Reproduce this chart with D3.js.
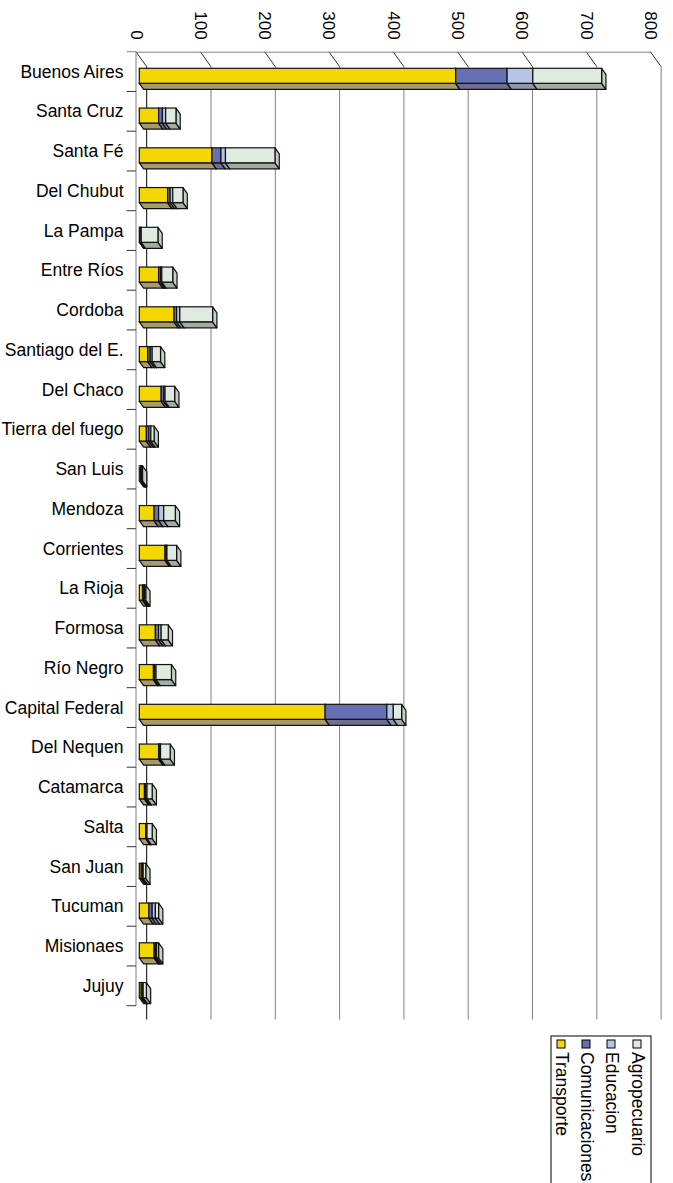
<html>
<head>
<script src="https://d3js.org/d3.v7.min.js"></script>
<style>
body {margin: 0; background: #fff;}
text {font-family: "Liberation Sans", Arial, sans-serif; fill: #000;}
</style>
</head>
<body>
<script>
// data
var categories = ["Buenos Aires", "Santa Cruz", "Santa Fé", "Del Chubut", "La Pampa", "Entre Ríos",
  "Cordoba", "Santiago del E.", "Del Chaco", "Tierra del fuego", "San Luis", "Mendoza", "Corrientes",
  "La Rioja", "Formosa", "Río Negro", "Capital Federal", "Del Nequen", "Catamarca", "Salta",
  "San Juan", "Tucuman", "Misionaes", "Jujuy"];
var transporte     = [492, 30, 113, 44, 1, 30, 54, 13, 34, 11, 2, 23, 40, 5, 25, 22, 289, 30, 8, 10, 3, 15, 23, 3];
var comunicaciones = [80, 6, 14, 4, 2, 3, 4, 4, 4, 4, 1, 7, 2, 2, 5, 2, 96, 2, 2, 1, 2, 5, 2, 2];
var educacion      = [40, 5, 7, 4, 0, 2, 5, 3, 2, 3, 1, 8, 1, 1, 4, 2, 10, 1, 2, 1, 1, 5, 2, 1];
var agropecuario   = [107, 16, 77, 16, 26, 17, 51, 13, 15, 5, 1, 18, 15, 2, 11, 24, 13, 15, 8, 8, 4, 5, 3, 5];
var seriesNames = ["Transporte", "Comunicaciones", "Educacion", "Agropecuario"];
var valueTicks = [0, 100, 200, 300, 400, 500, 600, 700, 800];

var frontColor  = ["#F5D700", "#6670B2", "#B5C5E5", "#DEEBDE"];
var bottomColor = ["#A69A6E", "#6F7090", "#8F97AA", "#A2ACA2"];
var sideColor   = ["#C2AA30", "#50588C", "#9AA6C0", "#C5D1C5"];

var w = 673, h = 1183;
var svg = d3.select("body").append("svg").attr("width", w).attr("height", h);

var x = d3.scaleLinear().domain([0, 800]).range([136, 650.4]);
var y = d3.scaleBand().domain(categories).range([51.7, 1005.7]);

// wall depth and bar geometry
var wallDx = 10.7, wallDy = 15;
var barX0 = 3.3, barY0 = 16.6, barH = 15, depDx = 4.3, depDy = 6;

// back wall gridlines
svg.selectAll("line.grid")
  .data(valueTicks)
  .enter().append("line")
  .attr("class", "grid")
  .attr("x1", d => x(d) + wallDx).attr("x2", d => x(d) + wallDx)
  .attr("y1", 51.7 + wallDy).attr("y2", 1019.5)
  .attr("stroke", d => d == 0 ? "#000" : "#808080")
  .attr("stroke-width", 1);

// diagonals from front axis to the wall
svg.selectAll("line.diag")
  .data(valueTicks)
  .enter().append("line")
  .attr("class", "diag")
  .attr("x1", d => x(d)).attr("x2", d => x(d) + wallDx)
  .attr("y1", 51.7).attr("y2", 51.7 + wallDy)
  .attr("stroke", "#333").attr("stroke-width", 1);

// value axis on top
var xAxis = d3.axisTop(x).tickValues(valueTicks).tickSize(0).tickSizeOuter(0).tickPadding(0);
var gx = svg.append("g")
  .attr("transform", "translate(0,51.7)")
  .call(xAxis);
gx.select(".domain").attr("stroke", "#808080");
gx.selectAll("text")
  .attr("x", 0).attr("y", 0).attr("dy", "0.35em")
  .attr("transform", "translate(0,-12) rotate(90)")
  .attr("text-anchor", "end")
  .style("font-size", "17px")
  .style("font-family", "Liberation Sans, Arial, sans-serif");

// category axis on the left
svg.append("line")
  .attr("x1", 136).attr("x2", 136).attr("y1", 51.7).attr("y2", 1005.7)
  .attr("stroke", "#808080");
var bounds = categories.map(c => y(c)).concat([y.range()[1]]);
svg.selectAll("line.ctick")
  .data(bounds)
  .enter().append("line")
  .attr("class", "ctick")
  .attr("x1", 126.7).attr("x2", 136)
  .attr("y1", d => d).attr("y2", d => d)
  .attr("stroke", d => d == bounds[0] ? "#808080" : "#333");

svg.selectAll("text.cat")
  .data(categories)
  .enter().append("text")
  .attr("class", "cat")
  .attr("x", 123.5)
  .attr("y", d => y(d) + y.bandwidth() / 2)
  .attr("dy", "0.35em")
  .attr("text-anchor", "end")
  .style("font-size", "17.5px")
  .text(d => d);

// stacked 3d bars
var rows = categories.map(function(c, i) {
  return {cat: c, Transporte: transporte[i], Comunicaciones: comunicaciones[i],
          Educacion: educacion[i], Agropecuario: agropecuario[i]};
});
var stacked = d3.stack().keys(seriesNames)(rows);

function pts(a) { return a.map(p => p.join(",")).join(" "); }

categories.forEach(function(c, i) {
  var g = svg.append("g");
  var top = y(c) + barY0, bot = top + barH;
  stacked.forEach(function(layer, k) {
    var v0 = layer[i][0], v1 = layer[i][1];
    if (v1 - v0 <= 0) return;
    var xa = x(v0) + barX0, xb = x(v1) + barX0;
    // bottom face
    g.append("polygon")
      .attr("points", pts([[xa, bot], [xb, bot], [xb + depDx, bot + depDy], [xa + depDx, bot + depDy]]))
      .attr("fill", bottomColor[k]).attr("stroke", "#111").attr("stroke-width", 1.2)
      .attr("stroke-linejoin", "round");
    // right face
    g.append("polygon")
      .attr("points", pts([[xb, top], [xb + depDx, top + depDy], [xb + depDx, bot + depDy], [xb, bot]]))
      .attr("fill", sideColor[k]).attr("stroke", "#111").attr("stroke-width", 1.2)
      .attr("stroke-linejoin", "round");
    // front face
    g.append("rect")
      .attr("x", xa).attr("y", top)
      .attr("width", xb - xa).attr("height", barH)
      .attr("fill", frontColor[k]).attr("stroke", "#111").attr("stroke-width", 1.2);
  });
});

// legend, rotated like the rest of the chart
var lg = svg.append("g");
lg.append("rect")
  .attr("x", 551).attr("y", 1036).attr("width", 100).attr("height", 170)
  .attr("fill", "#fff").attr("stroke", "#000").attr("stroke-width", 1);
var legX = [561, 586, 611, 637];
seriesNames.forEach(function(s, k) {
  lg.append("rect")
    .attr("x", legX[k] - 4).attr("y", 1040)
    .attr("width", 8).attr("height", 8)
    .attr("fill", frontColor[k]).attr("stroke", "#000").attr("stroke-width", 1);
  lg.append("text")
    .attr("transform", "translate(" + (legX[k] + 1) + ",1052) rotate(90)")
    .attr("dy", "0.35em")
    .style("font-size", "17.5px")
    .text(s);
});
</script>
</body>
</html>
